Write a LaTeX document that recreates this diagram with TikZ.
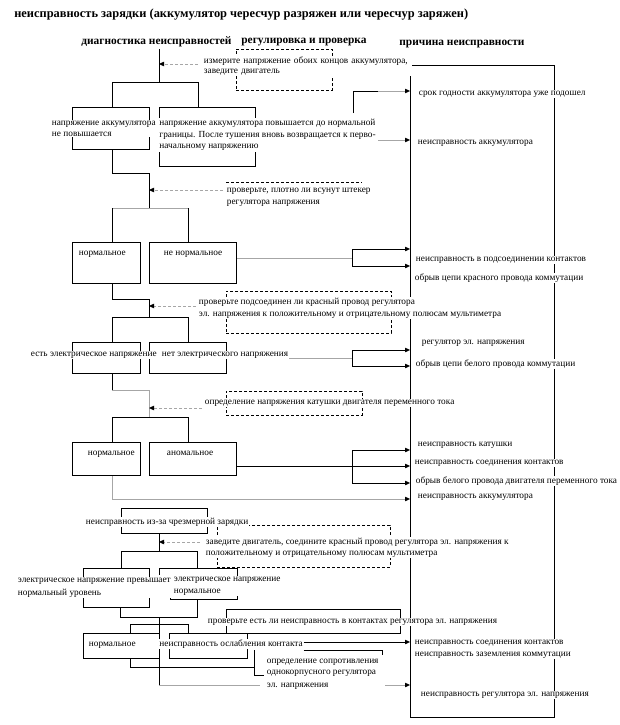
\documentclass[tikz,border=0pt]{standalone}
\usepackage{fontspec}
\setmainfont{Liberation Serif}
\usetikzlibrary{arrows.meta}
\pgfdeclarelayer{bg}
\pgfsetlayers{bg,main}
\definecolor{lg}{HTML}{A6A6A6}
\begin{document}
\begin{tikzpicture}[x=1pt,y=-1pt,line width=0.7pt,
  boxst/.style={draw,rectangle,inner sep=0pt,outer sep=0pt,anchor=north west},
  dboxst/.style={boxst,dash pattern=on 3pt off 2pt},
  txt/.style={anchor=west,fill=white,inner sep=0.6pt,align=left,font=\fontsize{9.3}{11}\selectfont},
  ttl/.style={anchor=west,inner sep=0pt,font=\fontsize{12.4}{14}\selectfont\bfseries},
  hdr/.style={anchor=west,inner sep=0pt,font=\fontsize{11.4}{13}\selectfont\bfseries},
  arr/.style={-{Triangle[length=5pt,width=4.5pt,black]}},
  garr/.style={arr,draw=lg},
  dline/.style={dash pattern=on 3pt off 2pt},
  darr/.style={arr,draw=lg,dash pattern=on 3pt off 2pt}]
\useasboundingbox (0,0) rectangle (620,725);

% ---------- boxes ----------
\node[boxst,minimum width=144,minimum height=652] (r) at (410,65) {};
\node[dboxst,minimum width=96,minimum height=41] (da) at (236,49) {};
\node[boxst,minimum width=77,minimum height=42] (b1) at (72,107) {};
\node[boxst,minimum width=96,minimum height=59] (b2) at (159,107) {};
\node[boxst,minimum width=68,minimum height=41] (c1) at (72,242) {};
\node[boxst,minimum width=87,minimum height=41] (c2) at (149,242) {};
\node[dboxst,minimum width=165,minimum height=42] (dd) at (226,291) {};
\node[boxst,minimum width=68,minimum height=31] (e1) at (72,342) {};
\node[boxst,minimum width=77,minimum height=31] (e2) at (149,342) {};
\node[dboxst,minimum width=136,minimum height=24] (df) at (226,391) {};
\node[boxst,minimum width=68,minimum height=33] (g1) at (72,442) {};
\node[boxst,minimum width=87,minimum height=33] (g2) at (149,442) {};
\node[boxst,minimum width=86,minimum height=25] (h) at (121,508) {};
\node[dboxst,minimum width=173,minimum height=42] (di) at (217,525) {};
\node[boxst,minimum width=66,minimum height=39] (j1) at (83,568) {};
\node[boxst,draw=none,minimum width=78,minimum height=31] (j2) at (159,568) {};
\draw (159,575) -- (j2.north west) -- (j2.north east) -- (j2.south east) -- (170,599) -- (170,594);
\node[boxst,minimum width=174,minimum height=24] (l) at (226,609) {};
\node[boxst,minimum width=76,minimum height=25] (k1) at (83,633) {};
\node[boxst,minimum width=78,minimum height=25] (k2) at (169,633) {};

% ---------- texts ----------
\node[ttl] (title) at (14,15) {неисправность зарядки (аккумулятор чересчур разряжен или чересчур заряжен)};
\node[hdr] (h1) at (81,42) {диагностика неисправностей};
\node[hdr] (h2) at (241,42) {регулировка и проверка};
\node[hdr] (h3) at (399,44) {причина неисправности};

\node[txt,text width=207,font=\fontsize{9.3}{10}\selectfont] (ta) at (203,66) {измерите напряжение обоих концов аккумулятора,\\заведите двигатель};
\node[txt] (tb1) at (51,128.5) {напряжение аккумулятора\\не повышается};
\node[txt] (tb2) at (158.5,135) {напряжение аккумулятора повышается до нормальной\\[1.5pt]границы. После тушения вновь возвращается к перво-\\начальному напряжению};
\node[txt] (r1) at (418,94) {срок годности аккумулятора уже подошел};
\node[txt] (r2) at (417,143) {неисправность аккумулятора};
\node[txt,font=\fontsize{9.3}{12}\selectfont] (tpl) at (226,197) {проверьте, плотно ли всунут штекер\\регулятора напряжения};
\node[txt] (tc1) at (78,254) {нормальное};
\node[txt] (tc2) at (163,254) {не нормальное};
\node[txt] (r3) at (415,260) {неисправность в подсоединении контактов};
\node[txt] (r4) at (414,278) {обрыв цепи красного провода коммутации};
\node[txt,font=\fontsize{9.3}{12}\selectfont] (td) at (198,308) {проверьте подсоединен ли красный провод регулятора\\эл. напряжения к положительному и отрицательному полюсам мультиметра};
\node[txt] (te1) at (30,355) {есть электрическое напряжение};
\node[txt] (te2) at (161,355) {нет электрического напряжения};
\node[txt] (r5) at (421,343) {регулятор эл. напряжения};
\node[txt] (r6) at (415,364) {обрыв цепи белого провода коммутации};
\node[txt] (tf) at (204,403) {определение напряжения катушки двигателя переменного тока};
\node[txt] (tg1) at (87,454) {нормальное};
\node[txt] (tg2) at (166,453) {аномальное};
\node[txt] (r7) at (417,445) {неисправность катушки};
\node[txt] (r8) at (414,463) {неисправность соединения контактов};
\node[txt] (r9) at (415,481) {обрыв белого провода двигателя переменного тока};
\node[txt] (r10) at (417,497) {неисправность аккумулятора};
\node[txt] (th) at (85,522) {неисправность из-за чрезмерной зарядки};
\node[txt] (ti) at (205,547.5) {заведите двигатель, соедините красный провод регулятора эл. напряжения к\\положительному и отрицательному полюсам мультиметра};
\node[txt,font=\fontsize{9.3}{13}\selectfont] (tj1) at (17,587.5) {электрическое напряжение превышает\\нормальный уровень};
\node[txt,font=\fontsize{9.3}{12}\selectfont] (tj2) at (173,586) {электрическое напряжение\\нормальное};
\node[txt] (tl) at (207,622) {проверьте есть ли неисправность в контактах регулятора эл. напряжения};
\node[txt] (tk1) at (88,645) {нормальное};
\node[txt] (tk2) at (158.5,644) {неисправность ослабления контакта};
\node[txt,font=\fontsize{9.3}{12}\selectfont] (r11) at (414,649) {неисправность соединения контактов\\неисправность заземления коммутации};
\node[txt] (to) at (266,674.5) {определение сопротивления\\однокорпусного регулятора\\[2pt]эл. напряжения};
\node[txt] (r12) at (420,695) {неисправность регулятора эл. напряжения};

% ---------- connectors ----------
\begin{pgfonlayer}{bg}
\coordinate (t0) at (159,49); \coordinate (s1) at (159,82);
\coordinate (s1l) at (112,82); \coordinate (s1r) at (198,82);
\draw (t0) -- (s1) (s1l) -- (s1r);
\draw (s1l) -- (s1l |- b1.north) (s1r) -- (s1r |- b2.north);
\coordinate (a1) at (198,64); \draw[darr] (a1) -- (a1 -| t0);

\coordinate (b1a) at (112,173); \coordinate (c0) at (149,208);
\draw (b1a |- b1.south) -- (b1a) -- (b1a -| c0) -- (c0);
\coordinate (p1) at (353,113); \coordinate (p1b) at (353,91); \coordinate (p1c) at (378,91);
\draw (p1) -- (p1b) -- (p1c);
\draw[garr] (p1c) -- (p1c -| r.west);
\coordinate (p2) at (378,140); \draw[garr] (p2) -- (p2 -| r.west);

\coordinate (dl1) at (226,182); \coordinate (dl2) at (362,182);
\draw[dline] (dl1) -- (dl2);
\coordinate (a2) at (223,190); \draw[darr] (a2) -- (a2 -| c0);
\coordinate (s2l) at (112,208); \coordinate (s2r) at (188,208);
\draw[lg] (s2l) -- (s2r);
\draw (s2l) -- (s2l |- c1.north) (s2r) -- (s2r |- c2.north);

\coordinate (q1) at (352,258); \coordinate (q1a) at (352,249); \coordinate (q1b) at (352,266);
\draw[lg] (c2.east |- q1) -- (q1);
\draw (q1a) -- (q1b);
\draw[arr] (q1a) -- (q1a -| r.west);
\draw[arr] (q1b) -- (q1b -| r.west);

\coordinate (c1a) at (112,299); \coordinate (e0) at (149,317);
\draw (c1a |- c1.south) -- (c1a) -- (c1a -| e0) -- (e0);
\coordinate (a3) at (196,306); \draw[darr] (a3) -- (a3 -| e0);
\coordinate (s3l) at (112,317); \coordinate (s3r) at (188,317);
\draw (s3l) -- (s3r) (s3l) -- (s3l |- e1.north) (s3r) -- (s3r |- e2.north);

\coordinate (q2) at (352,358); \coordinate (q2a) at (352,350); \coordinate (q2b) at (352,366);
\draw[lg] (te2.east |- q2) -- (q2);
\draw (q2a) -- (q2b);
\draw[arr] (q2a) -- (q2a -| r.west);
\draw[arr] (q2b) -- (q2b -| r.west);

\coordinate (e1a) at (112,390); \coordinate (g0) at (149,417);
\draw (e1a |- e1.south) -- (e1a);
\draw[lg] (e1a) -- (e1a -| g0) -- (g0);
\coordinate (a4) at (202,408); \draw[darr] (a4) -- (a4 -| g0);
\coordinate (s4l) at (112,417); \coordinate (s4r) at (188,417);
\draw (s4l) -- (s4r) (s4l) -- (s4l |- g1.north) (s4r) -- (s4r |- g2.north);

\coordinate (q3) at (352,466); \coordinate (q3a) at (352,450); \coordinate (q3b) at (352,483);
\draw (g2.east |- q3) -- (q3);
\draw (q3a) -- (q3b);
\draw[arr] (q3a) -- (q3a -| r.west);
\draw[arr] (q3) -- (q3 -| r.west);
\draw[arr] (q3b) -- (q3b -| r.west);

\coordinate (g1a) at (112,499);
\draw[garr] (g1a |- g1.south) -- (g1a) -- (g1a -| r.west);

\coordinate (h0) at (159,551);
\draw (h0 |- h.south) -- (h0);
\coordinate (a5) at (200,542); \draw[darr] (a5) -- (a5 -| h0);
\coordinate (s5l) at (121,551); \coordinate (s5r) at (197,551);
\draw (s5l) -- (s5r) (s5l) -- (s5l |- j1.north) (s5r) -- (s5r |- j2.north);

\coordinate (m1) at (120,617); \coordinate (m2) at (197,617);
\draw (m1 |- j1.south) -- (m1) -- (m2) -- (m2 |- j2.south);
\coordinate (k0) at (159,617); \coordinate (k9) at (159,685); \coordinate (k9b) at (260,685);
\draw (k0) -- (k9);
\draw[lg] (k9) -- (k9b);
\coordinate (k9c) at (385,685); \draw[garr] (k9c) -- (k9c -| r.west);
\coordinate (s6l) at (130,624); \coordinate (s6r) at (188,624);
\draw (s6l) -- (s6r) (s6l) -- (s6l |- k1.north) (s6r) -- (s6r |- k2.north);

\coordinate (q4) at (352,642);
\draw[arr] (tk2.east |- q4) -- (q4 -| r.west);
\coordinate (o1) at (382,650); \coordinate (o1b) at (382,655);
\draw (o1 -| tk2.east) -- (o1) -- (o1b);
\coordinate (k1a) at (130,667); \coordinate (o2) at (254,667);
\coordinate (o3) at (254,650); \coordinate (o4) at (254,675); \coordinate (o5) at (264,675);
\draw (k1a |- k1.south) -- (k1a) -- (o2);
\draw (o3) -- (o4) -- (o5);
\end{pgfonlayer}
\end{tikzpicture}
\end{document}
